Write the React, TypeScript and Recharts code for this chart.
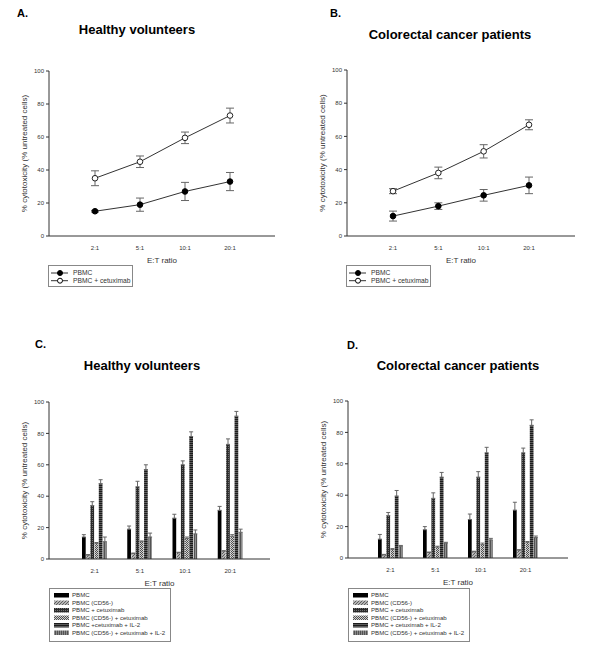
import {
  Bar,
  BarChart,
  ErrorBar,
  Legend,
  Line,
  LineChart,
  XAxis,
  YAxis
} from 'recharts';

const ratios = ['2:1', '5:1', '10:1', '20:1'];
const yTicks = [0, 20, 40, 60, 80, 100];

// A. healthy volunteers
const healthyPbmc = [15, 19, 27, 33];
const healthyPbmcErr = [0.5, 4, 5.5, 5.5];
const healthyCetux = [35, 45, 59.5, 73];
const healthyCetuxErr = [4.5, 3.5, 3.5, 4.5];

// B. colorectal cancer patients
const patientPbmc = [12, 18, 24.5, 30.5];
const patientPbmcErr = [3, 2, 3.5, 5];
const patientCetux = [27, 38, 51, 67];
const patientCetuxErr = [1.5, 3.5, 4, 3];

const lineNames = ['PBMC', 'PBMC + cetuximab'];

// C. / D. bar series
const healthyBarNames = [
  'PBMC',
  'PBMC (CD56-)',
  'PBMC + cetuximab',
  'PBMC (CD56-) + cetuximab',
  'PBMC +cetuximab + IL-2',
  'PBMC (CD56-) + cetuximab + IL-2'
];
const patientBarNames = [
  'PBMC',
  'PBMC (CD56-)',
  'PBMC + cetuximab',
  'PBMC (CD56-) + cetuximab',
  'PBMC + cetuximab + IL-2',
  'PBMC (CD56-) + cetuximab + IL-2'
];

const healthyBars = [
  [14, 19, 26, 31],
  [2.5, 3.5, 4, 5],
  [34, 46, 60, 73],
  [10, 11, 13, 14.5],
  [48, 57, 78, 91],
  [11, 14, 16, 17]
];
const healthyBarErr = [
  [1.5, 2, 2.5, 2.5],
  [0.3, 0.3, 0.3, 0.3],
  [2.5, 3.5, 2.5, 3.5],
  [0.5, 0.5, 1, 1],
  [2.5, 3, 3, 3],
  [3, 2.5, 2.5, 2]
];

const patientBars = [
  [12, 18, 24.5, 30.5],
  [2, 3.5, 4, 5],
  [27, 38, 51.5, 67],
  [5.5, 7, 8.5, 10],
  [39.5, 51.5, 67, 84.5],
  [7.5, 9.5, 11.5, 13]
];
const patientBarErr = [
  [3, 2, 3.5, 5],
  [0.3, 0.3, 0.3, 0.3],
  [2, 3.5, 3.5, 3],
  [0.5, 0.5, 1, 0.5],
  [3.5, 3, 3.5, 3.5],
  [0.5, 0.5, 1, 1]
];

const patternIds = ['none', 'p-cd56', 'p-cetux', 'p-cd56cetux', 'p-il2', 'p-cd56il2'];
const barFill = (i: number) => (i === 0 ? '#000' : `url(#${patternIds[i]})`);

const FONT = '"Liberation Sans", Arial, sans-serif';
const INK = '#333';
const ERR = '#666';

const lineTable = (pbmc: number[], pbmcErr: number[], cetux: number[], cetuxErr: number[]) =>
  ratios.map((r, i) => ({
    ratio: r,
    pbmc: pbmc[i],
    pbmcErr: pbmcErr[i],
    cetux: cetux[i],
    cetuxErr: cetuxErr[i]
  }));

const barTable = (vals: number[][], errs: number[][]) =>
  ratios.map((r, i) => {
    const row: any = { ratio: r };
    vals.forEach((s, k) => {
      row[`s${k}`] = s[i];
      row[`e${k}`] = [0, errs[k][i]];
    });
    return row;
  });

const yLabel = (props: any) => {
  const vb = props.viewBox;
  const cx = vb.x + vb.width - 22;
  const cy = vb.y + vb.height / 2;
  return (
    <text x={cx} y={cy} transform={`rotate(-90 ${cx} ${cy})`} textAnchor="middle" fontSize={8} fill={INK}>
      % cytotoxicity (% untreated cells)
    </text>
  );
};

const xLabel = (props: any) => {
  const vb = props.viewBox;
  return (
    <text x={vb.x + vb.width / 2} y={vb.y + 27} textAnchor="middle" fontSize={8} fill={INK}>
      E:T ratio
    </text>
  );
};

function LineLegend() {
  return (
    <svg width={85} height={22} style={{ display: 'block' }}>
      <rect x={0.5} y={0.5} width={84} height={21} fill="#fff" stroke="#888" />
      {lineNames.map((name, i) => {
        const y = 8 + i * 7.7;
        return (
          <g key={name}>
            <line x1={3} x2={20} y1={y} y2={y} stroke={INK} />
            <circle cx={12} cy={y} r={2.5} fill={i === 0 ? '#000' : '#fff'} stroke="#000" />
            <text x={25} y={y + 2.3} fontSize={6.7} fill={INK}>
              {name}
            </text>
          </g>
        );
      })}
    </svg>
  );
}

function BarLegend({ names }: { names: string[] }) {
  return (
    <svg width={122} height={54} style={{ display: 'block' }}>
      <rect x={0.5} y={0.5} width={121} height={53} fill="#fff" stroke="#888" />
      {names.map((name, i) => {
        const y = 7 + i * 7.5;
        return (
          <g key={name}>
            <rect x={5} y={y - 2} width={15} height={4.5} fill={barFill(i)} />
            <text x={23} y={y + 2.2} fontSize={6.1} fill={INK}>
              {name}
            </text>
          </g>
        );
      })}
    </svg>
  );
}

function LinePanel(props: { data: any[]; yWidth: number; top: number; right: number; padL: number; padR: number }) {
  const { data, yWidth, top, right, padL, padR } = props;
  return (
    <LineChart width={300} height={320} data={data} margin={{ top, right, bottom: 320 - 236 - 30, left: 0 }}>
      <XAxis
        dataKey="ratio"
        height={30}
        padding={{ left: padL, right: padR }}
        tickLine={false}
        axisLine={{ stroke: INK }}
        tick={{ fontSize: 6, fill: INK }}
        tickMargin={4}
        label={{ content: xLabel }}
      />
      <YAxis
        width={yWidth}
        domain={[0, 100]}
        ticks={yTicks}
        tickSize={3}
        axisLine={{ stroke: INK }}
        tickLine={{ stroke: INK }}
        tick={{ fontSize: 6, fill: INK }}
        label={{ content: yLabel }}
      />
      <Legend
        layout="vertical"
        align="center"
        verticalAlign="middle"
        wrapperStyle={{ left: yWidth - 1, top: 265, width: 85, height: 22 }}
        content={() => <LineLegend />}
      />
      <Line
        dataKey="pbmc"
        stroke={INK}
        strokeWidth={1}
        dot={{ r: 2.8, fill: '#000', stroke: '#000', strokeWidth: 1 }}
        isAnimationActive={false}
      >
        <ErrorBar dataKey="pbmcErr" width={4} stroke={ERR} strokeWidth={1} />
      </Line>
      <Line
        dataKey="cetux"
        stroke={INK}
        strokeWidth={1}
        dot={{ r: 2.8, fill: '#fff', stroke: '#222', strokeWidth: 1 }}
        isAnimationActive={false}
      >
        <ErrorBar dataKey="cetuxErr" width={4} stroke={ERR} strokeWidth={1} />
      </Line>
    </LineChart>
  );
}

function BarPanel(props: {
  data: any[];
  names: string[];
  yWidth: number;
  top: number;
  bottom: number;
  right: number;
  padL: number;
  padR: number;
}) {
  const { data, names, yWidth, top, bottom, right, padL, padR } = props;
  return (
    <BarChart
      width={300}
      height={334}
      data={data}
      margin={{ top, right, bottom: 334 - bottom - 30, left: 0 }}
      barSize={3.7}
      barGap={0.5}
    >
      <XAxis
        dataKey="ratio"
        height={30}
        padding={{ left: padL, right: padR }}
        tickLine={false}
        axisLine={{ stroke: INK }}
        tick={{ fontSize: 6, fill: INK }}
        tickMargin={4}
        label={{ content: xLabel }}
      />
      <YAxis
        width={yWidth}
        domain={[0, 100]}
        ticks={yTicks}
        tickSize={3}
        axisLine={{ stroke: INK }}
        tickLine={{ stroke: INK }}
        tick={{ fontSize: 6, fill: INK }}
        label={{ content: yLabel }}
      />
      <Legend
        layout="vertical"
        align="center"
        verticalAlign="middle"
        wrapperStyle={{ left: yWidth, top: 268, width: 122, height: 54 }}
        content={() => <BarLegend names={names} />}
      />
      {names.map((name, k) => (
        <Bar key={name} dataKey={`s${k}`} name={name} fill={barFill(k)} isAnimationActive={false}>
          <ErrorBar dataKey={`e${k}`} width={2} stroke={ERR} strokeWidth={1} />
        </Bar>
      ))}
    </BarChart>
  );
}

function Patterns() {
  return (
    <svg width={0} height={0} style={{ position: 'absolute' }}>
      <defs>
        <pattern id="p-cd56" width={3} height={3} patternUnits="userSpaceOnUse">
          <rect width={3} height={3} fill="#b4b4b4" />
          <path d="M0 3 L3 0" stroke="#555" strokeWidth={0.9} />
        </pattern>
        <pattern id="p-cetux" width={2} height={2} patternUnits="userSpaceOnUse">
          <rect width={2} height={2} fill="#2a2a2a" />
          <rect width={1} height={1} fill="#707070" />
        </pattern>
        <pattern id="p-cd56cetux" width={2} height={2} patternUnits="userSpaceOnUse">
          <rect width={2} height={2} fill="#d0d0d0" />
          <rect width={1} height={1} fill="#505050" />
          <rect x={1} y={1} width={1} height={1} fill="#505050" />
        </pattern>
        <pattern id="p-il2" width={2} height={2} patternUnits="userSpaceOnUse">
          <rect width={2} height={2} fill="#1c1c1c" />
          <rect width={2} height={0.8} fill="#6a6a6a" />
        </pattern>
        <pattern id="p-cd56il2" width={2} height={2} patternUnits="userSpaceOnUse">
          <rect width={2} height={2} fill="#8c8c8c" />
          <rect width={0.8} height={2} fill="#444" />
        </pattern>
      </defs>
    </svg>
  );
}

export default function App() {
  const dataA = lineTable(healthyPbmc, healthyPbmcErr, healthyCetux, healthyCetuxErr);
  const dataB = lineTable(patientPbmc, patientPbmcErr, patientCetux, patientCetuxErr);
  const dataC = barTable(healthyBars, healthyBarErr);
  const dataD = barTable(patientBars, patientBarErr);

  return (
    <div
      style={{
        position: 'absolute',
        left: 0,
        top: 0,
        width: 600,
        height: 654,
        background: '#fff',
        fontFamily: FONT,
        overflow: 'hidden'
      }}
    >
      <Patterns />
      <div style={{ position: 'absolute', left: 0, top: 0 }}>
        <LinePanel data={dataA} yWidth={49} top={71} right={25} padL={46} padR={45} />
      </div>
      <div style={{ position: 'absolute', left: 300, top: 0 }}>
        <LinePanel data={dataB} yWidth={47} top={70} right={25} padL={46} padR={46} />
      </div>
      <div style={{ position: 'absolute', left: 0, top: 320 }}>
        <BarPanel data={dataC} names={healthyBarNames} yWidth={49} top={82} bottom={239} right={30} padL={23} padR={17} />
      </div>
      <div style={{ position: 'absolute', left: 300, top: 320 }}>
        <BarPanel data={dataD} names={patientBarNames} yWidth={48} top={81} bottom={238} right={32} padL={20} padR={20} />
      </div>
      <svg
        width={600}
        height={654}
        style={{ position: 'absolute', left: 0, top: 0, pointerEvents: 'none' }}
        fontFamily={FONT}
        fontWeight="bold"
        fill="#000"
      >
        <text x={17} y={17} fontSize={11}>A.</text>
        <text x={137} y={34} fontSize={13} textAnchor="middle">Healthy volunteers</text>
        <text x={330} y={17} fontSize={11}>B.</text>
        <text x={450} y={39} fontSize={13} textAnchor="middle">Colorectal cancer patients</text>
        <text x={35} y={348} fontSize={11}>C.</text>
        <text x={142} y={370} fontSize={13} textAnchor="middle">Healthy volunteers</text>
        <text x={347} y={349} fontSize={11}>D.</text>
        <text x={458} y={370} fontSize={13} textAnchor="middle">Colorectal cancer patients</text>
      </svg>
    </div>
  );
}
